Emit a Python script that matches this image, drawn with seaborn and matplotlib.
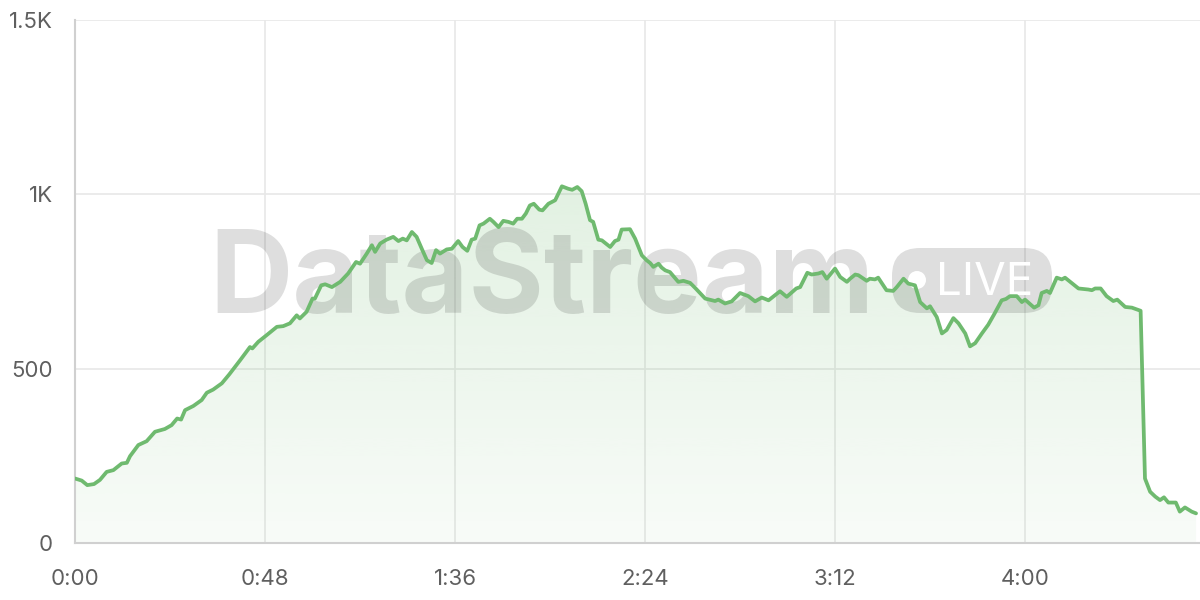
import numpy as np
import pandas as pd
import matplotlib
matplotlib.use("Agg")
import matplotlib.pyplot as plt
import matplotlib.transforms as mtransforms
from matplotlib.patches import FancyBboxPatch, Circle
from matplotlib.ticker import FuncFormatter
import seaborn as sns

# Data: elapsed minutes and viewer count
minutes = [
    0.0, 1.7, 3.1, 4.8, 6.3, 8.0, 9.7, 11.8, 13.1, 13.9, 16.0, 18.1, 20.2, 22.7, 24.4,
    25.8, 26.8, 27.8, 29.9, 32.0, 33.3, 34.9, 37.1, 39.0, 41.7, 44.2, 44.8, 46.3, 48.4,
    51.0, 52.6, 54.3, 56.0, 56.8, 58.5, 60.0, 60.6, 62.2, 63.2, 64.9, 67.0, 69.0, 71.0,
    72.0, 73.7, 75.0, 75.8, 77.1, 78.7, 80.4, 81.7, 82.8, 83.8, 85.1, 86.3, 87.6, 88.9,
    90.1, 91.2, 92.2, 93.9, 95.2, 96.8, 97.9, 99.1, 100.2, 101.1, 102.2, 103.2, 104.8,
    105.7, 107.0, 108.2, 109.5, 110.7, 111.7, 112.9, 113.9, 114.9, 115.9, 117.3, 118.1,
    119.6, 121.3, 123.0, 124.6, 125.6, 126.9, 128.0, 129.0, 130.1, 130.9, 132.2, 133.1,
    135.2, 136.4, 137.3, 138.1, 140.2, 141.5, 143.2, 144.4, 145.3, 146.1, 147.4, 148.2,
    149.1, 150.3, 152.4, 153.7, 155.4, 156.8, 159.2, 161.7, 162.5, 164.2, 165.9, 168.0,
    170.1, 171.8, 173.5, 175.2, 178.1, 179.8, 182.2, 183.2, 185.0, 186.1, 187.8, 188.8,
    189.9, 192.0, 193.3, 195.0, 195.8, 197.1, 197.9, 200.0, 200.8, 202.1, 202.9, 205.0,
    206.7, 207.6, 209.3, 210.5, 212.2, 213.5, 215.2, 216.0, 217.7, 219.0, 220.2, 221.9,
    223.2, 224.9, 226.1, 227.4, 229.1, 230.7, 232.2, 234.1, 235.2, 236.2, 237.9, 239.2,
    240.0, 242.3, 243.4, 244.2, 245.5, 246.3, 248.0, 249.3, 250.1, 253.5, 256.0, 256.9,
    257.7, 259.1, 260.6, 262.3, 263.3, 265.3, 267.0, 269.2, 270.3, 271.6, 272.9, 274.1,
    275.1, 276.2, 278.1, 279.1, 280.4, 282.1, 283.2,
]
viewers = [
    185, 179, 166, 169, 181, 204, 209, 228, 230, 249, 281, 292, 319, 327, 338,
    357, 354, 381, 393, 410, 431, 440, 458, 484, 524, 562, 558, 577, 596,
    620, 622, 630, 653, 644, 663, 701, 701, 739, 742, 734, 749, 773, 806,
    801, 830, 854, 835, 859, 870, 878, 866, 873, 868, 892, 878, 844, 811,
    803, 840, 830, 842, 844, 866, 849, 838, 870, 873, 911, 916, 930,
    921, 906, 924, 921, 916, 930, 930, 945, 968, 973, 956, 954,
    973, 983, 1023, 1016, 1013, 1021, 1009, 973, 926, 921, 870, 868,
    849, 866, 870, 899, 900, 873, 825, 811, 803, 792, 801, 790,
    782, 777, 749, 752, 746, 730, 701, 694, 698, 687, 693, 717,
    708, 693, 704, 696, 722, 706, 730, 734, 775, 770, 773, 777,
    758, 787, 763, 749, 758, 770, 768, 752, 758, 756, 761, 725,
    723, 734, 758, 744, 739, 691, 673, 679, 648, 601, 611, 645,
    630, 601, 564, 573, 601, 626, 656, 696, 700, 708, 708, 691,
    698, 675, 682, 717, 723, 717, 761, 756, 761, 730, 727, 725,
    730, 730, 708, 694, 698, 677, 675, 666, 185, 147, 133, 123,
    131, 116, 116, 90, 102, 90, 85,
]
x_ticks = [0, 48, 96, 144, 192, 240]
y_ticks = [0, 500, 1000, 1500]
y_labels = ["0", "500", "1K", "1.5K"]

df = pd.DataFrame({"minutes": minutes, "viewers": viewers})

sns.set_style("white")
plt.rcParams["font.family"] = ["Inter", "DejaVu Sans"]

line_color = "#6fba6f"
text_color = "#5f5f5f"
grid_color = "#e8e8e8"

fig = plt.figure(figsize=(12, 6), dpi=100)
ax = fig.add_axes([75 / 1200, 57 / 600, 1 - 75 / 1200, 523 / 600])

# gradient fill under the line
poly = ax.fill_between(df["minutes"], df["viewers"], 0, color="none", lw=0)
grad = np.zeros((256, 1, 4))
grad[:, 0, :3] = matplotlib.colors.to_rgb(line_color)
grad[:, 0, 3] = np.linspace(0.05, 0.2, 256)
im = ax.imshow(grad, extent=[df["minutes"].min(), df["minutes"].max(), 0, df["viewers"].max()],
               origin="lower", aspect="auto", zorder=1, interpolation="bicubic")
im.set_clip_path(poly.get_paths()[0], transform=ax.transData)

sns.lineplot(data=df, x="minutes", y="viewers", ax=ax, color=line_color, linewidth=2.7, zorder=3)

# watermark
px = mtransforms.IdentityTransform()
ax.text(209 / 1200, 1 - 313 / 600, "DataStream", transform=fig.transFigure,
        fontsize=83, fontweight="bold", color=(0, 0, 0, 0.13), va="baseline", ha="left", zorder=2)
pill = FancyBboxPatch((892, 600 - 313), 160, 65, boxstyle="round,pad=0,rounding_size=28",
                      transform=px, fc=(0, 0, 0, 0.13), ec="none", zorder=2)
ax.add_artist(pill)
ax.add_artist(Circle((917, 600 - 280), 9, transform=px, fc="white", ec="none", zorder=2.1))
ax.text(936 / 1200, 1 - 295 / 600, "LIVE", transform=fig.transFigure, fontsize=33,
        color="white", va="baseline", ha="left", zorder=2.1)

ax.set_xlim(0, df["minutes"].max() + 1)
ax.set_ylim(0, 1500)
ax.set_xticks(x_ticks)
ax.xaxis.set_major_formatter(FuncFormatter(lambda m, _: f"{int(m // 60)}:{int(m % 60):02d}"))
ax.set_yticks(y_ticks)
ax.set_yticklabels(y_labels)
ax.set_xlabel("")
ax.set_ylabel("")

ax.set_axisbelow(True)
ax.grid(True, color=grid_color, linewidth=1.2)
ax.tick_params(axis="both", colors=grid_color, labelcolor=text_color, labelsize=16,
               length=11, width=1.2, direction="out")
ax.tick_params(axis="x", pad=8)
ax.tick_params(axis="y", pad=5)
for side in ["top", "right"]:
    ax.spines[side].set_visible(False)
for side in ["left", "bottom"]:
    ax.spines[side].set_color("#d0d0d0")
    ax.spines[side].set_linewidth(1.5)

fig.savefig("out.png", dpi=100, facecolor="white")
